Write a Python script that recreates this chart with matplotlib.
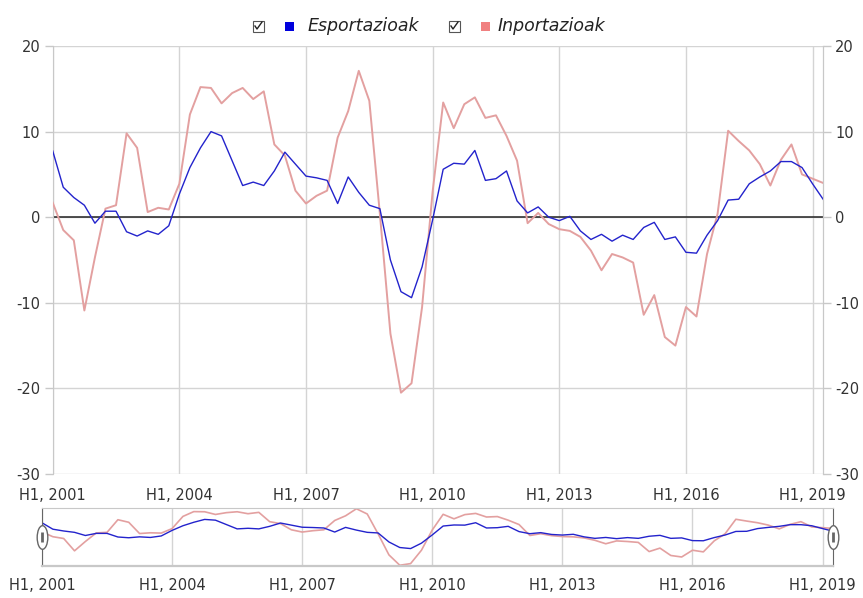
import numpy as np
import matplotlib
matplotlib.use("Agg")
import matplotlib.pyplot as plt
from matplotlib.patches import Rectangle
from matplotlib.path import Path
from matplotlib.transforms import Affine2D

plt.rcParams["axes.unicode_minus"] = False

### quarterly data, 2001 Q1 .. 2019 Q2
start_year = 2001.0
esportazioak = [7.75, 3.5, 2.3, 1.4, -0.7, 0.7, 0.7, -1.7, -2.2, -1.6, -2.0, -1.0,
                2.7, 5.8, 8.1, 10.0, 9.5, 6.6, 3.7, 4.1, 3.7, 5.4, 7.6, 6.2,
                4.8, 4.6, 4.3, 1.6, 4.7, 2.9, 1.4, 1.0, -5.0, -8.7, -9.4, -5.8,
                -0.3, 5.6, 6.3, 6.2, 7.8, 4.3, 4.5, 5.4, 1.9, 0.5, 1.2, 0.0,
                -0.4, 0.1, -1.6, -2.6, -2.0, -2.8, -2.1, -2.6, -1.2, -0.6, -2.6, -2.3,
                -4.1, -4.2, -2.1, -0.4, 2.0, 2.1, 3.9, 4.7, 5.4, 6.5, 6.5, 5.8,
                3.9, 2.1]
inportazioak = [1.7, -1.5, -2.7, -10.9, -4.7, 1.0, 1.4, 9.8, 8.1, 0.6, 1.1, 0.9,
                3.9, 12.0, 15.2, 15.1, 13.3, 14.5, 15.1, 13.8, 14.7, 8.5, 7.2, 3.1,
                1.6, 2.5, 3.1, 9.3, 12.4, 17.1, 13.6, 0.4, -13.6, -20.5, -19.4, -10.5,
                3.0, 13.4, 10.4, 13.2, 14.0, 11.6, 11.9, 9.5, 6.6, -0.7, 0.5, -0.8,
                -1.4, -1.6, -2.3, -3.9, -6.2, -4.3, -4.7, -5.3, -11.4, -9.1, -14.0, -15.0,
                -10.5, -11.6, -4.3, 0.4, 10.1, 8.9, 7.8, 6.2, 3.7, 6.7, 8.5, 5.0,
                4.5, 4.0]
tick_years = [2001, 2004, 2007, 2010, 2013, 2016, 2019]
tick_labels = ["H1, %d" % y for y in tick_years]
y_ticks = [-30, -20, -10, 0, 10, 20]

x = start_year + np.arange(len(esportazioak)) * 0.25

blue = "#2323cc"
red = "#e3a0a0"
grid_c = "#d4d4d4"
txt_c = "#333333"
fs = 10.5

W, H = 863, 598
fig = plt.figure(figsize=(W / 100, H / 100), dpi=100)

### main chart
ax = fig.add_axes([52.7 / W, 1 - 474 / H, 770 / W, 428 / H])
ax.plot(x, inportazioak, color=red, lw=1.4, zorder=3)
ax.plot(x, esportazioak, color=blue, lw=1.0, zorder=4)
ax.axhline(0, color="#222222", lw=1.1, zorder=2)
ax.set_xlim(2001.0, 2019.24)
ax.set_ylim(-30, 20)
ax.set_xticks(tick_years)
ax.set_xticklabels(tick_labels)
ax.set_yticks(y_ticks)
ax.grid(True, color=grid_c, lw=1.0)
for s in ["top", "bottom"]:
    ax.spines[s].set_visible(False)
for s in ["left", "right"]:
    ax.spines[s].set_color("#c8c8c8")
ax.tick_params(axis="x", length=0, pad=10, labelsize=fs, labelcolor=txt_c)
ax.tick_params(axis="y", length=6, width=1, color="#c8c8c8", pad=3, labelsize=fs, labelcolor=txt_c)

ax2 = ax.twinx()
ax2.set_ylim(-30, 20)
ax2.set_yticks(y_ticks)
for s in ["top", "bottom", "left"]:
    ax2.spines[s].set_visible(False)
ax2.spines["right"].set_color("#c8c8c8")
ax2.tick_params(axis="y", length=6, width=1, color="#c8c8c8", pad=3, labelsize=fs, labelcolor=txt_c)

### legend
ly = 1 - 26 / H
for cx, col, name, tx in [(258, "#0000dd", "Esportazioak", 308), (454, "#f08080", "Inportazioak", 498)]:
    fig.patches.append(Rectangle(((cx - 5.5) / W, ly - 5.5 / H), 11 / W, 11 / H, transform=fig.transFigure,
                                 facecolor="white", edgecolor="#555555", lw=0.8))
    fig.lines.append(plt.Line2D([(cx - 3) / W, (cx - 1) / W, (cx + 4) / W],
                                [ly + 0 / H, ly - 3 / H, ly + 4 / H],
                                transform=fig.transFigure, color="#222222", lw=1.0))
    fig.patches.append(Rectangle(((cx + 27) / W, ly - 4.5 / H), 9 / W, 9 / H, transform=fig.transFigure,
                                 facecolor=col, edgecolor="none"))
    fig.text(tx / W, ly, name, fontsize=12.5, style="italic", color="#222222", va="center", ha="left")

### navigator
nav = fig.add_axes([42 / W, 1 - 566 / H, 791 / W, 58 / H])
nav.plot(x, inportazioak, color=red, lw=1.2)
nav.plot(x, esportazioak, color=blue, lw=1.0)
nav.set_xlim(2001.0, 2019.24)
nav.set_ylim(-21.0, 17.6)
nav.set_xticks(tick_years)
nav.set_xticklabels(tick_labels)
nav.set_yticks([])
nav.grid(True, axis="x", color=grid_c, lw=1.0)
for s in ["top", "bottom"]:
    nav.spines[s].set_color("#c8c8c8")
nav.spines["bottom"].set_linewidth(1.6)
for s in ["left", "right"]:
    nav.spines[s].set_color("#666666")
nav.tick_params(axis="x", length=0, pad=9, labelsize=fs, labelcolor=txt_c)

handle = Path.unit_circle().transformed(Affine2D().scale(0.45, 1.0))
for hx in [0.0, 1.0]:
    nav.plot([hx], [0.5], transform=nav.transAxes, marker=handle, markersize=17,
             markerfacecolor="white", markeredgecolor="#666666", markeredgewidth=1.0, clip_on=False, zorder=5)
    nav.plot([hx], [0.5], transform=nav.transAxes, marker="|", markersize=7,
             markeredgecolor="#666666", markeredgewidth=2.0, clip_on=False, zorder=6)

fig.savefig("out.png", dpi=100)
